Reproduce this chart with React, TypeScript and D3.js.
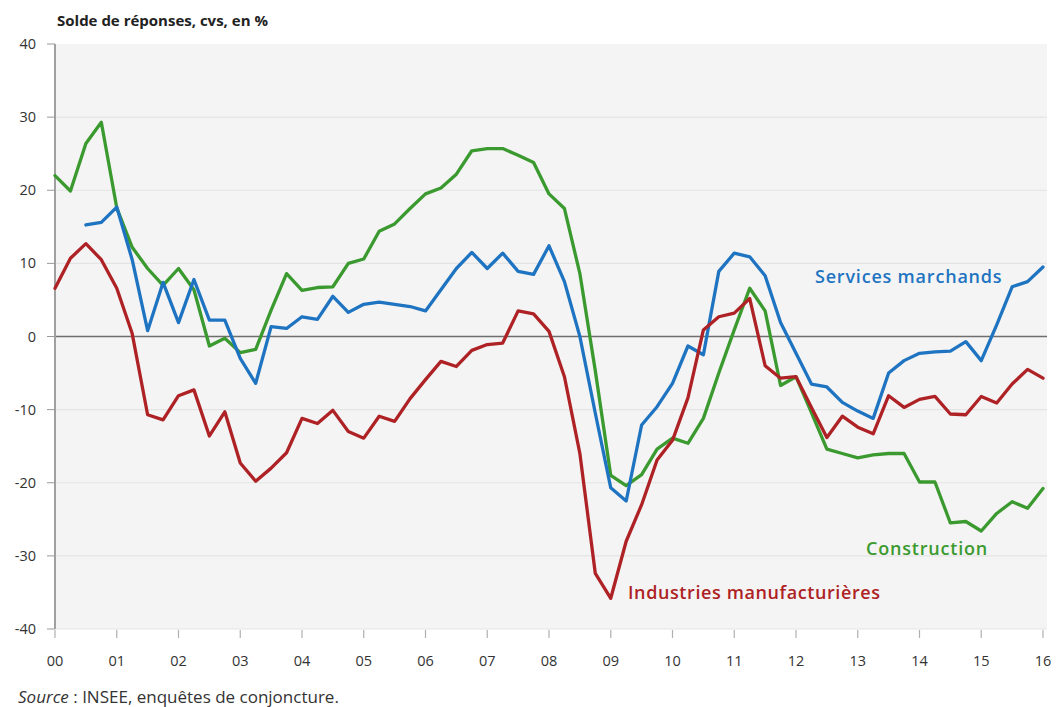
import React from "react";
import * as d3 from "d3";

const startYear = 2000;
const yearTicks = [2000, 2001, 2002, 2003, 2004, 2005, 2006, 2007, 2008, 2009, 2010, 2011, 2012, 2013, 2014, 2015, 2016];
const yTicks = [-40, -30, -20, -10, 0, 10, 20, 30, 40];

// Quarterly balances of opinion, 2000Q1 .. 2016Q1
const industries: (number | null)[] = [
  6.6, 10.7, 12.7, 10.5,
  6.6, 0.4, -10.7, -11.4,
  -8.1, -7.3, -13.6, -10.3,
  -17.3, -19.8, -18.0, -15.9,
  -11.2, -11.9, -10.1, -13.0,
  -13.9, -10.9, -11.6, -8.5,
  -5.9, -3.4, -4.1, -1.9,
  -1.1, -0.9, 3.5, 3.1,
  0.7, -5.5, -16.0, -32.4,
  -35.8, -28.0, -23.0, -16.9,
  -14.2, -8.4, 0.9, 2.7,
  3.2, 5.2, -4.0, -5.7,
  -5.5, -9.7, -13.8, -10.9,
  -12.4, -13.3, -8.1, -9.7,
  -8.6, -8.2, -10.6, -10.7,
  -8.2, -9.1, -6.5, -4.5,
  -5.7,
];

const services: (number | null)[] = [
  null, null, 15.25, 15.6,
  17.7, 10.5, 0.8, 7.4,
  1.9, 7.8, 2.25, 2.25,
  -3.0, -6.4, 1.35, 1.1,
  2.7, 2.35, 5.5, 3.3,
  4.4, 4.7, 4.4, 4.1,
  3.5, 6.4, 9.3, 11.5,
  9.3, 11.4, 8.9, 8.5,
  12.4, 7.5, 0.0, -10.5,
  -20.7, -22.5, -12.1, -9.6,
  -6.4, -1.3, -2.5, 8.9,
  11.4, 10.9, 8.3, 1.9,
  -2.3, -6.5, -6.9, -9.0,
  -10.2, -11.2, -5.0, -3.3,
  -2.3, -2.1, -2.0, -0.7,
  -3.3, 1.6, 6.8, 7.5,
  9.5,
];

const construction: (number | null)[] = [
  22.0, 19.9, 26.4, 29.3,
  17.6, 12.2, 9.3, 7.0,
  9.3, 6.4, -1.3, -0.25,
  -2.2, -1.75, 3.6, 8.6,
  6.3, 6.7, 6.8, 10.0,
  10.6, 14.4, 15.4, 17.5,
  19.5, 20.3, 22.2, 25.4,
  25.7, 25.7, 24.8, 23.8,
  19.5, 17.5, 8.6, -4.7,
  -19.0, -20.4, -18.9, -15.4,
  -13.9, -14.6, -11.2, -5.0,
  0.9, 6.6, 3.5, -6.7,
  -5.5, -10.4, -15.4, -16.0,
  -16.6, -16.2, -16.0, -16.0,
  -19.9, -19.9, -25.5, -25.3,
  -26.6, -24.2, -22.6, -23.5,
  -20.8,
];

const seriesList = [
  { name: "Construction", values: construction, color: "#3b9a2f" },
  { name: "Services marchands", values: services, color: "#1f74c2" },
  { name: "Industries manufacturières", values: industries, color: "#ae2225" },
];

const W = 1056;
const H = 707;

export default function App() {
  const x = d3.scaleLinear().domain([2000, 2016]).range([55, 1043]);
  const y = d3.scaleLinear().domain([-40, 40]).range([629, 44]);

  const line = d3
    .line<number | null>()
    .defined((d) => d !== null)
    .x((_, i) => x(startYear + i / 4))
    .y((d) => y(d as number));

  const font = "'Open Sans', 'Noto Sans', sans-serif";

  return (
    <svg
      width={W}
      height={H}
      style={{ position: "absolute", left: 0, top: 0, background: "#fff" }}
      fontFamily={font}
    >
      <text x={57} y={26} fontSize={15} fontWeight={700} fill="#222">
        Solde de réponses, cvs, en %
      </text>
      <rect x={55} y={y(40)} width={1047 - 55} height={y(-40) - y(40)} fill="#f4f4f4" />
      {yTicks.map((t) => (
        <g key={t}>
          {t !== 0 && t !== 40 && (
            <line x1={55} x2={1047} y1={y(t)} y2={y(t)} stroke="#e4e4e4" strokeWidth={1.2} />
          )}
          <line x1={47} x2={55} y1={y(t)} y2={y(t)} stroke="#999" strokeWidth={1} />
          <text x={36} y={y(t)} dy="0.35em" textAnchor="end" fontSize={14.5} fill="#333">
            {t}
          </text>
        </g>
      ))}
      <line x1={55} x2={1047} y1={y(0)} y2={y(0)} stroke="#6e6e6e" strokeWidth={1.3} />
      <line x1={55} x2={55} y1={y(40)} y2={y(-40)} stroke="#a0a0a0" strokeWidth={2} />
      {yearTicks.map((yr) => (
        <g key={yr}>
          <line x1={x(yr)} x2={x(yr)} y1={630} y2={638} stroke="#b0b0b0" strokeWidth={1.2} />
          <text x={x(yr)} y={661} dy="0.35em" textAnchor="middle" fontSize={14.5} fill="#333">
            {String(yr % 100).padStart(2, "0")}
          </text>
        </g>
      ))}
      {seriesList.map((s) => (
        <path
          key={s.name}
          d={line(s.values) || ""}
          fill="none"
          stroke={s.color}
          strokeWidth={3.3}
          strokeLinejoin="round"
          strokeLinecap="round"
        />
      ))}
      <text x={815} y={283} fontSize={18} fontWeight={600} letterSpacing={0.8} fill="#1f74c2">
        Services marchands
      </text>
      <text x={866} y={555} fontSize={18} fontWeight={600} letterSpacing={0.8} fill="#3b9a2f">
        Construction
      </text>
      <text x={628} y={599} fontSize={18} fontWeight={600} letterSpacing={0.6} fill="#ae2225">
        Industries manufacturières
      </text>
      <text x={18} y={703} fontSize={17} fill="#333">
        <tspan fontStyle="italic">Source</tspan> : INSEE, enquêtes de conjoncture.
      </text>
    </svg>
  );
}
